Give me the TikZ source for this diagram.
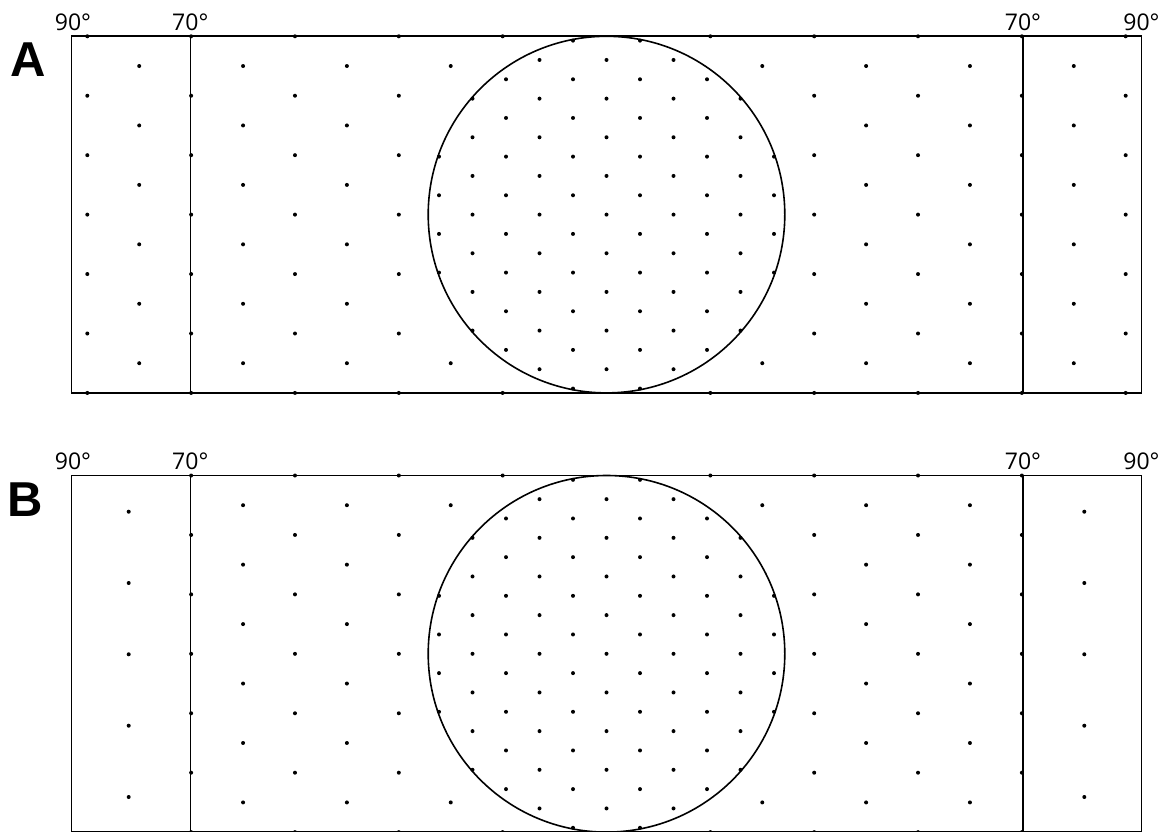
\documentclass[tikz,border=0pt]{standalone}
\usepackage{fontspec}
\setmainfont{Open Sans}
\newfontfamily\boldsans{Liberation Sans}
\begin{document}
\begin{tikzpicture}[x=1pt,y=-1pt,
  frame/.style={line width=1.6pt,draw=black},
  dotmark/.style={fill=black},
  deg/.style={font=\fontsize{23}{25}\selectfont,anchor=base,inner sep=0pt},
  panel/.style={font=\boldsans\bfseries\fontsize{49}{50}\selectfont,inner sep=0pt}]
\useasboundingbox (0,0) rectangle (1168,832);
\fill[white] (0,0) rectangle (1168,832);
% panels
\foreach \oy/\nm in {0/A,439.2/B}{
  \begin{scope}[shift={(0,\oy)}]
    \draw[frame] (71.5,36.3) rectangle (1141.3,393);
    \draw[frame] (190.3,36.3) -- (190.3,393);
    \draw[frame] (1022.7,36.3) -- (1022.7,393);
    \draw[frame] (606.5,214.6) circle (178.3);
    \node[deg] (l90\nm) at (73,30.5) {90°};
    \node[deg] (l70\nm) at (190.3,30.5) {70°};
    \node[deg] (r70\nm) at (1023,30.5) {70°};
    \node[deg] (r90\nm) at (1141.5,30.5) {90°};
    % outer lattice
    \foreach \r in {0,...,12}{
      \pgfmathsetmacro\yy{36.3+29.72*\r}
      \pgfmathtruncatemacro\odd{mod(\r,2)}
      \foreach \k in {0,...,10}{
        \pgfmathsetmacro\xx{87.3+51.92*\odd+103.84*\k}
        \pgfmathtruncatemacro\show{((((\xx-606.5)/100)^2+((\yy-214.6)/100)^2)>3.6) && (\xx<1130) && ((\oy<1) || ((\xx>185) && (\xx<1028))) ? 1 : 0}
        \ifnum\show=1 \fill[dotmark] (\xx,\yy) circle (2); \fi
      }
    }
    % inner lattice
    \foreach \j in {-9,...,9}{
      \foreach \i in {-6,...,6}{
        \pgfmathtruncatemacro\pp{mod(abs(\i+\j),2)}
        \pgfmathtruncatemacro\ins{(((0.335*\i)^2+(0.1933*\j)^2)<3.19) ? 1 : 0}
        \ifnum\pp=0 \ifnum\ins=1 \fill[dotmark] (606.5+33.5*\i,214.6+19.33*\j) circle (2); \fi \fi
      }
    }
  \end{scope}
}
% strip dots of panel B
\foreach \yy in {511.7,583,654.3,725.7,797}{
  \fill[dotmark] (128.7,\yy) circle (2);
  \fill[dotmark] (1084.3,\yy) circle (2);
}
\node[panel] (pA) at (28.5,60) {A};
\node[panel] (pB) at (25.5,500) {B};
\end{tikzpicture}
\end{document}
